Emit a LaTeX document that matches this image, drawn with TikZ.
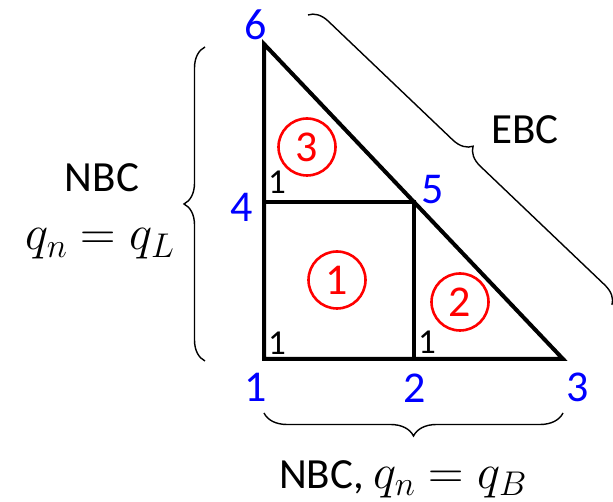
\RequirePackage{fix-cm}
\documentclass[tikz,border=0pt]{standalone}
\usepackage{fontspec}
\setmainfont{Carlito}
\usetikzlibrary{decorations.pathreplacing}
\definecolor{nblue}{RGB}{0,0,255}
\definecolor{ered}{RGB}{255,0,0}
\begin{document}
\begin{tikzpicture}[x=1pt,y=1pt,
  edge/.style={line width=4pt,line join=miter},
  nodelab/.style={text=nblue,font=\fontsize{44}{50}\selectfont,inner sep=0pt},
  anglab/.style={text=black,font=\fontsize{35}{40}\selectfont,inner sep=0pt},
  elem/.style={circle,draw=ered,line width=2.6pt,text=ered,minimum size=57pt,inner sep=0pt,font=\fontsize{44}{48}\selectfont},
  txt/.style={font=\fontsize{43}{50}\selectfont,inner sep=0pt},
  mtxt/.style={font=\fontsize{49}{54}\selectfont,inner sep=0pt},
  bracestyle/.style={decorate,line width=1.4pt}]
\useasboundingbox (0,0) rectangle (613,502);
\coordinate (n1) at (264,143);
\coordinate (n2) at (414,143);
\coordinate (n3) at (563,143);
\coordinate (n4) at (264,300);
\coordinate (n5) at (414,300);
\coordinate (n6) at (264,458);
\draw[edge] (n6) -- (n1) -- (n3) -- cycle;
\draw[edge] (n4) -- (n5) -- (n2);
\node[nodelab] (l1) at (256,115) {1};
\node[nodelab] (l2) at (415,114) {2};
\node[nodelab] (l3) at (578,115) {3};
\node[nodelab] (l4) at (242,295) {4};
\node[nodelab] (l5) at (433,312) {5};
\node[nodelab] (l6) at (256,477) {6};
\node[anglab] (a4) at (277,320) {1};
\node[anglab] (a1) at (277,159) {1};
\node[anglab] (a2) at (427,160) {1};
\node[elem] (e3) at (307,355) {3};
\node[elem] (e1) at (337,222) {1};
\node[elem] (e2) at (460,200) {2};
\coordinate (bl1) at (205,141);
\coordinate (bl2) at (205,455);
\coordinate (bb1) at (563,89);
\coordinate (bb2) at (264,89);
\coordinate (be1) at (308,487);
\coordinate (be2) at (612,197);
\draw[bracestyle,decoration={brace,amplitude=21pt}] (bl1) -- (bl2);
\draw[bracestyle,decoration={brace,amplitude=23pt}] (bb1) -- (bb2);
\draw[bracestyle,decoration={brace,amplitude=19pt}] (be1) -- (be2);
\node[txt] (ebc) at (525,372) {EBC};
\node[txt] (nbcl) at (102,324) {NBC};
\node[mtxt] (ql) at (100,258) {$q_n=q_L$};
\node[mtxt] (nbcb) at (403,23) {\fontsize{43}{50}\selectfont NBC, \fontsize{49}{54}\selectfont$q_n=q_B$};
\end{tikzpicture}
\end{document}
